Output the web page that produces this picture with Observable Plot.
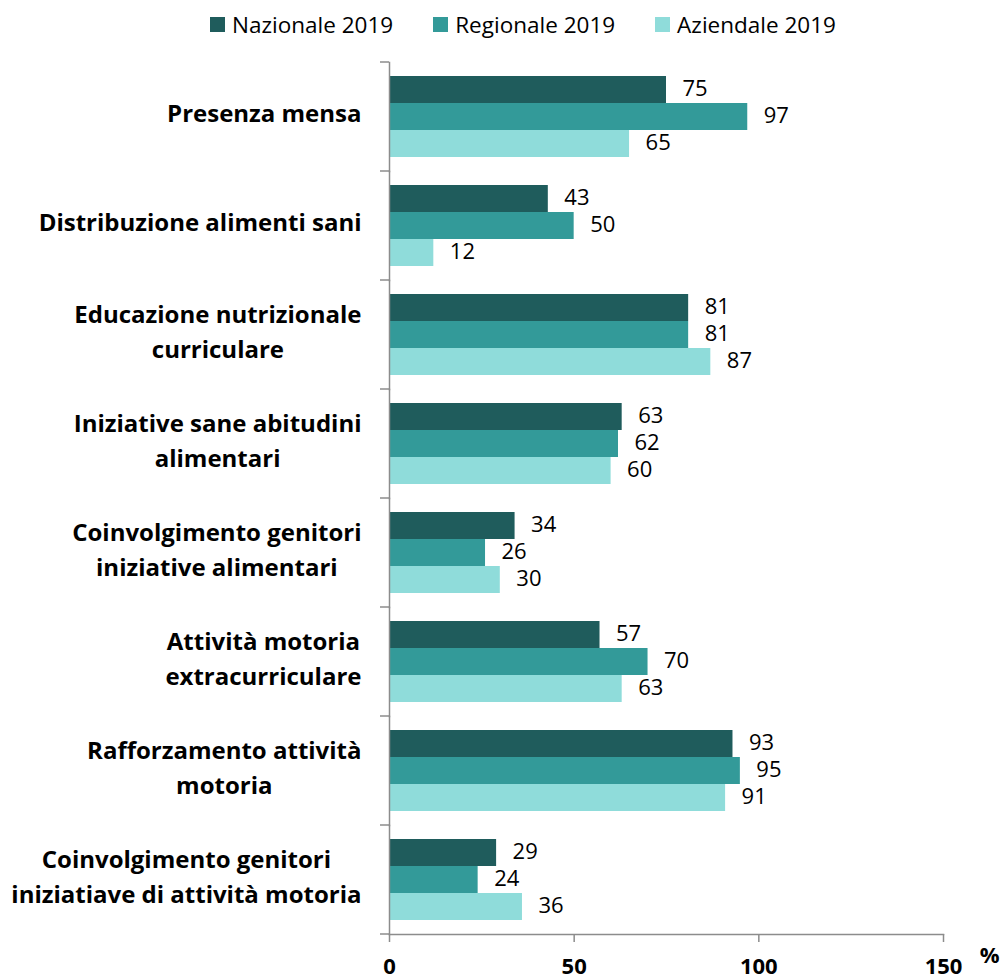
<!DOCTYPE html>
<html>
<head>
<meta charset="utf-8">
<script src="https://cdn.jsdelivr.net/npm/d3@7"></script>
<script src="https://cdn.jsdelivr.net/npm/@observablehq/plot@0.6"></script>
<style>
  html, body { margin: 0; padding: 0; background: #fff; }
  body { width: 1002px; font-family: "Open Sans", sans-serif; }
  .legend { height: 45px; display: flex; justify-content: center; align-items: center; gap: 40px; padding-left: 44px; padding-top: 3px; box-sizing: border-box; font-size: 22.5px; color: #000; }
  .legend .item { display: flex; align-items: center; gap: 7px; white-space: nowrap; }
  .legend .sw { width: 15px; height: 15px; display: inline-block; }
</style>
</head>
<body>
<div class="legend" id="legend"></div>
<div id="chart"></div>
<script>
const categories = [
  "Presenza mensa",
  "Distribuzione alimenti sani",
  "Educazione nutrizionale\ncurriculare",
  "Iniziative sane abitudini\nalimentari",
  "Coinvolgimento genitori\niniziative alimentari",
  "Attività motoria\nextracurriculare",
  "Rafforzamento attività\nmotoria",
  "Coinvolgimento genitori\niniziatiave di attività motoria"
];
const series = ["Nazionale 2019", "Regionale 2019", "Aziendale 2019"];
const nazionale = [75, 43, 81, 63, 34, 57, 93, 29];
const regionale = [97, 50, 81, 62, 26, 70, 95, 24];
const aziendale = [65, 12, 87, 60, 30, 63, 91, 36];
const colors = ["#1f5c5c", "#339a99", "#8fdcda"];
const xTicks = [0, 50, 100, 150];
const unitLabel = "%";

const seriesValues = [nazionale, regionale, aziendale];
const data = categories.flatMap((c, i) =>
  series.map((s, j) => ({ category: c, series: s, value: seriesValues[j][i] }))
);

// legend
const legend = document.getElementById("legend");
series.forEach((s, j) => {
  const item = document.createElement("div");
  item.className = "item";
  const sw = document.createElement("span");
  sw.className = "sw";
  sw.style.background = colors[j];
  const t = document.createElement("span");
  t.textContent = s;
  item.appendChild(sw);
  item.appendChild(t);
  legend.appendChild(item);
});

const axisColor = "#8c8c8c";
const chart = Plot.plot({
  width: 1002,
  height: 935,
  marginLeft: 389,
  marginRight: 59,
  marginTop: 14,
  marginBottom: 43,
  style: { fontFamily: "Open Sans, sans-serif", fontSize: "20px", color: "#000", background: "#fff", overflow: "visible" },
  x: { domain: [0, 150] },
  y: { domain: series, paddingInner: 0, paddingOuter: 0.48, axis: null },
  fy: { domain: categories, padding: 0 },
  color: { domain: series, range: colors },
  marks: [
    Plot.barX(data, { fy: "category", y: "series", x: "value", fill: "series" }),
    Plot.text(data, {
      fy: "category", y: "series", x: "value",
      text: d => String(d.value),
      textAnchor: "start", dx: 16, dy: -1, fontSize: 22, fill: "#000"
    }),
    Plot.frame({ anchor: "left", stroke: axisColor, strokeWidth: 1.5 }),
    Plot.frame({ anchor: "bottom", facetAnchor: "bottom", stroke: axisColor, strokeWidth: 1.5 }),
    Plot.axisFy({
      anchor: "left", tickSize: 0, tickPadding: 28, label: null, dy: -6,
      fontSize: 24, fontWeight: "bold", lineHeight: 1.46, fill: "#000"
    }),
    Plot.axisX({
      ticks: xTicks, tickSize: 8, tickPadding: 16, label: null,
      stroke: axisColor, strokeWidth: 1.5, fill: "#000",
      fontSize: 22, fontWeight: "bold"
    }),
    Plot.text([unitLabel], {
      facetAnchor: "bottom", frameAnchor: "bottom-right",
      dx: 56, dy: 28, fontSize: 22, fontWeight: "bold", fill: "#000"
    })
  ]
});
document.getElementById("chart").appendChild(chart);

// center multi-line category labels (Excel-like), keeping right edge
d3.select(chart).selectAll('g[aria-label="fy-axis tick label"] text').each(function () {
  const bb = this.getBBox();
  const cur = this.getAttribute("transform") || "";
  this.setAttribute("text-anchor", "middle");
  this.setAttribute("transform", `${cur} translate(${-bb.width / 2},0)`);
});

// category boundary ticks on the left axis
const fy = chart.scale("fy");
const x0 = chart.scale("x").range[0];
const bounds = categories.map(c => fy.apply(c)).concat([fy.apply(categories[categories.length - 1]) + fy.bandwidth]);
d3.select(chart).append("g")
  .attr("stroke", axisColor).attr("stroke-width", 1.5)
  .selectAll("line").data(bounds).join("line")
  .attr("x1", x0 - 9).attr("x2", x0)
  .attr("y1", d => d).attr("y2", d => d);
</script>
</body>
</html>
